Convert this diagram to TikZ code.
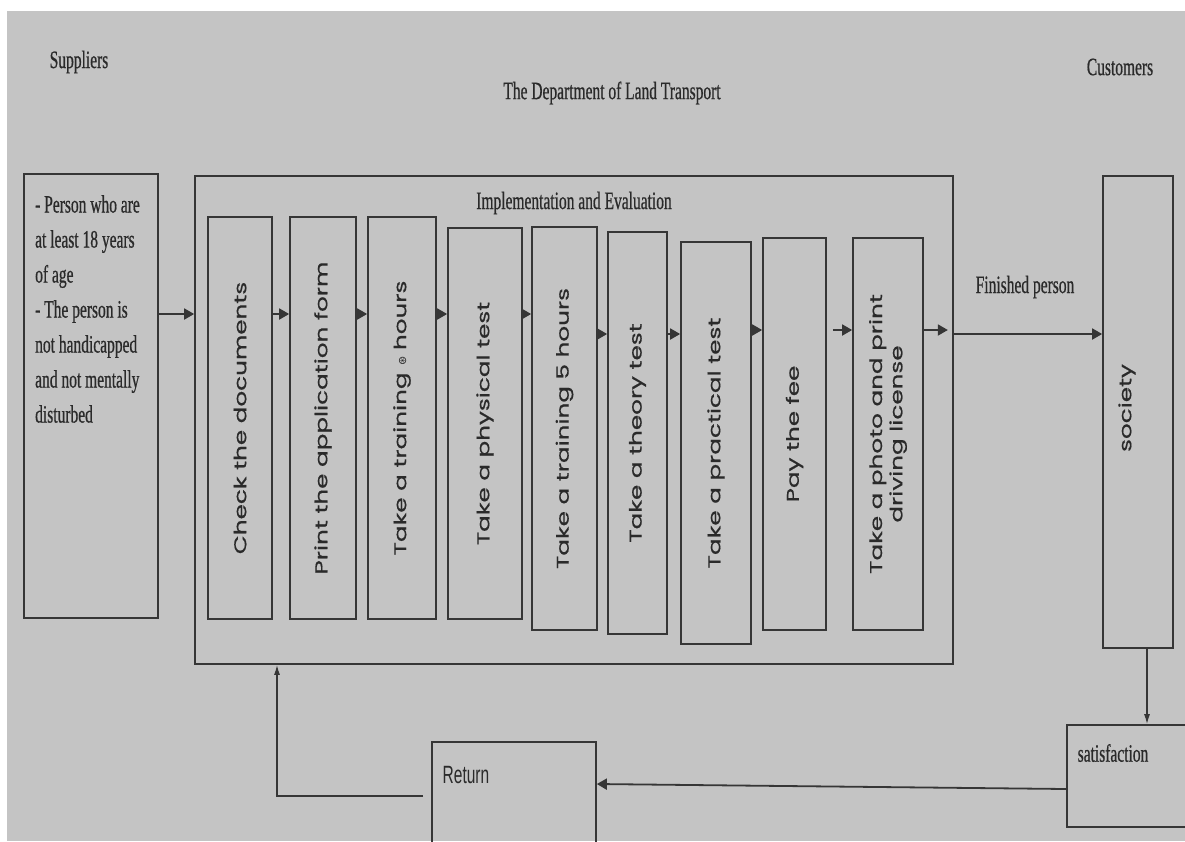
\documentclass[tikz,border=0pt]{standalone}
\usepackage{fontspec}
\usepackage{tikz}
\usetikzlibrary{
    arrows.meta,
    calc,
    positioning
}
\setmainfont{Liberation Serif}
\newfontfamily\capfont[FakeStretch=0.62,FakeBold=0.6]{Liberation Serif}
\newfontfamily\retfont[FakeStretch=0.62]{Liberation Sans}
\newfontfamily\stepfont[FakeStretch=1.45,FakeBold=0.6]{Poppins}
\newfontfamily\symfont{DejaVu Sans}
\definecolor{bggrey}{HTML}{C4C4C4}
\definecolor{linegrey}{HTML}{363636}
\definecolor{textgrey}{HTML}{2A2A2A}

\begin{document}
\begin{tikzpicture}[x=1pt, y=-1pt,
    box/.style 2 args={draw=linegrey, line width=1.7pt, inner sep=0pt, minimum width=#1, minimum height=#2},
    stepbox/.style 2 args={box={#1}{#2}, text=textgrey, font=\stepfont\fontsize{17}{20}\selectfont},
    captext/.style={text=textgrey, font=\capfont\fontsize{25}{35}\selectfont},
    flow/.style={draw=linegrey, line width=1.8pt, -{Triangle[length=10pt,width=11pt]}},
    back/.style={draw=linegrey, line width=1.3pt, -{Latex[length=10pt,width=6pt]}}
]
                        \useasboundingbox (0,0) rectangle (1185,841);
                        \fill[white] (0,0) rectangle (1185,841);
                        \fill[bggrey] (7,11) rectangle (1185,841);

                        \node[captext] (supl) at (79,62) {Suppliers};
                        \node[captext] (dlt) at (612,93) {The Department of Land Transport};
                        \node[captext] (cust) at (1120,67) {Customers};

                        \node[box={134pt}{444pt}] (sup) at (91,396) {};
                        \node[captext, anchor=north west, align=left, inner sep=0pt] (supt) at (35,195)
                            {- Person who are\\at least 18 years\\of age\\- The person is\\not handicapped\\and not mentally\\disturbed};

                        \node[box={758pt}{488pt}] (impl) at (574,420) {};
                        \node[captext] (iel) at (574,203) {Implementation and Evaluation};

                        \node[stepbox={64pt}{402pt}] (check) at (240,418) {\rotatebox{90}{Check the documents}};
                        \node[stepbox={66pt}{402pt}] (print) at (323,418) {\rotatebox{90}{Print the application form}};
                        \node[stepbox={68pt}{402pt}] (train8) at (402,418) {\rotatebox{90}{Take a training {\symfont\fontsize{11}{11}\selectfont ⊛} hours}};
                        \node[stepbox={74pt}{391pt}] (phys) at (485,423.5) {\rotatebox{90}{Take a physical test}};
                        \node[stepbox={65pt}{403pt}] (train5) at (564.5,428.5) {\rotatebox{90}{Take a training 5 hours}};
                        \node[stepbox={59pt}{402pt}] (theory) at (637.5,433) {\rotatebox{90}{Take a theory test}};
                        \node[stepbox={70pt}{402pt}] (pract) at (716,443) {\rotatebox{90}{Take a practical test}};
                        \node[stepbox={63pt}{392pt}] (fee) at (794.5,434) {\rotatebox{90}{Pay the fee}};
                        \node[stepbox={70pt}{392pt}] (photo) at (888,434) {\rotatebox{90}{\shortstack{Take a photo and print\\driving license}}};

                        \node[captext] (finl) at (1025,287) {Finished person};
                        \node[box={70pt}{472pt}] (soc) at (1138,412) {};
                        \node[text=textgrey, font=\stepfont\fontsize{17}{20}\selectfont, rotate=90] (socl) at (1127,408) {society};

                        \node[box={126pt}{102pt}] (sat) at (1130,776) {};
                        \node[captext] (satl) at (1113,753) {satisfaction};
                        \node[box={164pt}{118pt}] (ret) at (514,801) {};
                        \node[text=textgrey, font=\retfont\fontsize{25}{30}\selectfont] (retl) at (466,775) {Return};

                        \coordinate (rowA) at (0,314);
                        \coordinate (rowB) at (0,334);
                        \coordinate (rowC) at (0,330);
                        \coordinate (satrow) at (0,789);
                        \coordinate (retrow) at (0,784);
                        \coordinate (fbcorner) at (277,796);
                        \coordinate (socfoot) at ($(soc.south)+(9,0)$);

                        \draw[flow] (sup.east |- rowA) -- (impl.west |- rowA);
                        \draw[flow] (check.east |- rowA) -- (print.west |- rowA);
                        \draw[flow] (print.east |- rowA) -- (train8.west |- rowA);
                        \draw[flow] (train8.east |- rowA) -- (phys.west |- rowA);
                        \draw[flow] (phys.east |- rowA) -- (train5.west |- rowA);
                        \draw[flow] (train5.east |- rowB) -- (theory.west |- rowB);
                        \draw[flow] (theory.east |- rowB) -- (pract.west |- rowB);
                        \draw[flow] (pract.east |- rowC) -- (fee.west |- rowC);
                        \draw[flow] ($(fee.east |- rowC)+(6,0)$) -- (photo.west |- rowC);
                        \draw[flow] (photo.east |- rowC) -- ($(impl.east |- rowC)+(-6,0)$);
                        \draw[flow] (impl.east |- rowB) -- (soc.west |- rowB);
                        \draw[back] (socfoot) -- (socfoot |- sat.north);
                        \draw[flow] (sat.west |- satrow) -- (ret.east |- retrow);
                        \draw[back] ($(ret.west |- fbcorner)+(-8,0)$) -- (fbcorner) -- (fbcorner |- impl.south);
                    \end{tikzpicture}
\end{document}
